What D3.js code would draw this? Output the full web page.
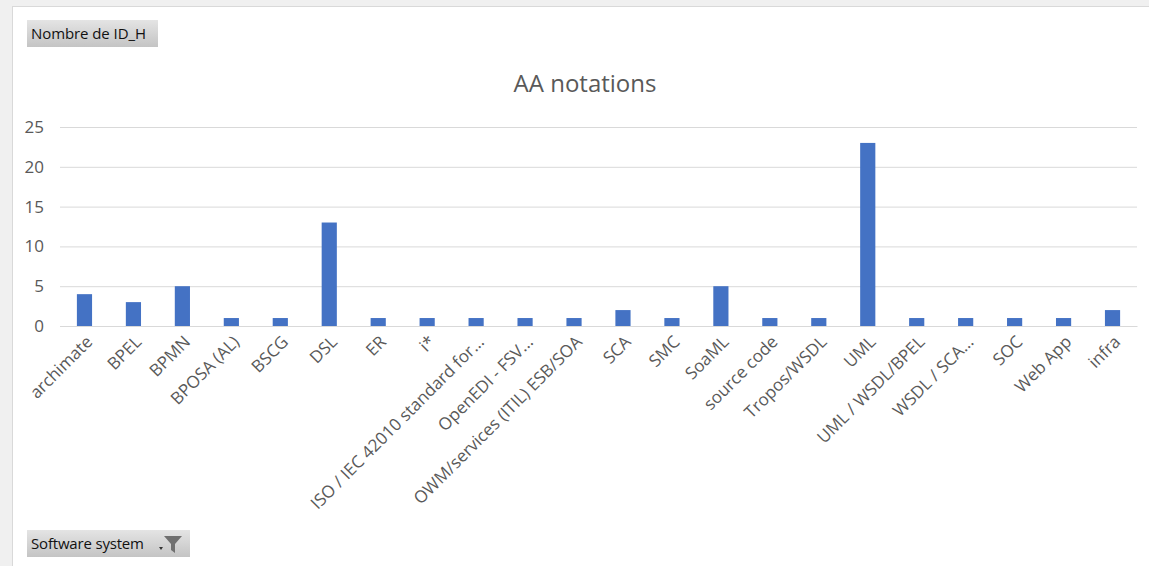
<!DOCTYPE html>
<html>
<head>
<meta charset="utf-8">
<script src="https://cdn.jsdelivr.net/npm/d3@7"></script>
<style>
  body { margin: 0; background: #f0f0f0; }
  svg { display: block; }
</style>
</head>
<body>
<div id="chart"></div>
<script>
// chart data
var categories = ["archimate", "BPEL", "BPMN", "BPOSA (AL)", "BSCG", "DSL", "ER", "i*",
  "ISO / IEC 42010 standard for...", "OpenEDI - FSV...", "OWM/services (ITIL) ESB/SOA",
  "SCA", "SMC", "SoaML", "source code", "Tropos/WSDL", "UML", "UML / WSDL/BPEL",
  "WSDL / SCA...", "SOC", "Web App", "infra"];
var counts = [4, 3, 5, 1, 1, 13, 1, 1, 1, 1, 1, 2, 1, 5, 1, 1, 23, 1, 1, 1, 1, 2];
var yTicks = [0, 5, 10, 15, 20, 25];

var W = 1149, H = 566;
var font = "'Open Sans', 'Noto Sans', sans-serif";
var margin = {top: 127, right: 12, bottom: 240, left: 60};
var width = 1137 - margin.left;
var height = 326 - margin.top;

var svg = d3.select("#chart").append("svg")
    .attr("width", W)
    .attr("height", H);

// white card
svg.append("rect")
    .attr("x", 12.5).attr("y", 6.5)
    .attr("width", W).attr("height", H)
    .attr("fill", "#fff")
    .attr("stroke", "#d9d9d9");

var defs = svg.append("defs");
var grad = defs.append("linearGradient")
    .attr("id", "btn").attr("x1", 0).attr("y1", 0).attr("x2", 0).attr("y2", 1);
grad.append("stop").attr("offset", "0%").attr("stop-color", "#e4e4e4");
grad.append("stop").attr("offset", "100%").attr("stop-color", "#c4c4c4");

function button(x, y, w, label) {
  var b = svg.append("g").attr("transform", "translate(" + x + "," + y + ")");
  b.append("rect").attr("width", w).attr("height", 27).attr("fill", "url(#btn)");
  b.append("text")
      .attr("x", 4).attr("y", 19)
      .attr("font-family", font).attr("font-size", 15)
      .attr("textLength", w === 131 ? 115 : 113)
      .attr("fill", "#111")
      .text(label);
  return b;
}

button(27, 20, 131, "Nombre de ID_H");
var filt = button(27, 530, 163, "Software system");
// dropdown arrow + funnel
filt.append("path").attr("d", "M132,17 l4,0 l-2,3 z").attr("fill", "#333");
filt.append("path").attr("d", "M137,6 l18,0 l-7,8 l0,9 l-4,-3 l0,-6 z").attr("fill", "#707070");

var g = svg.append("g")
    .attr("transform", "translate(" + margin.left + "," + margin.top + ")");

var x = d3.scaleBand()
    .domain(categories)
    .range([0, width])
    .paddingInner(0.69)
    .paddingOuter(0.345);

var y = d3.scaleLinear()
    .domain([0, 25])
    .range([height, 0]);

// gridlines
var grid = g.append("g")
    .call(d3.axisLeft(y).tickValues(yTicks).tickSize(-width).tickFormat(""));
grid.select(".domain").remove();
grid.selectAll("line").attr("stroke", "#d9d9d9");

// y labels
var ya = g.append("g")
    .call(d3.axisLeft(y).tickValues(yTicks).tickSize(0).tickPadding(16));
ya.select(".domain").remove();
ya.selectAll("text")
    .attr("font-family", font).attr("font-size", 17).attr("fill", "#595959");

g.selectAll("rect.bar")
    .data(counts)
    .enter().append("rect")
    .attr("class", "bar")
    .attr("x", function(d, i) { return x(categories[i]); })
    .attr("y", function(d) { return y(d); })
    .attr("width", x.bandwidth())
    .attr("height", function(d) { return height - y(d); })
    .attr("fill", "#4472c4");

// x axis
var xa = g.append("g")
    .attr("transform", "translate(0," + height + ")")
    .call(d3.axisBottom(x).tickSize(0).tickPadding(0));
xa.select(".domain").attr("stroke", "#d9d9d9");
xa.selectAll("text")
    .attr("font-family", font).attr("font-size", 17).attr("fill", "#595959")
    .attr("text-anchor", "end")
    .attr("dy", null)
    .attr("transform", "translate(9,17) rotate(-45)");

svg.append("text")
    .attr("x", 585).attr("y", 92)
    .attr("text-anchor", "middle")
    .attr("font-family", font).attr("font-size", 24)
    .attr("fill", "#595959")
    .text("AA notations");
</script>
</body>
</html>
